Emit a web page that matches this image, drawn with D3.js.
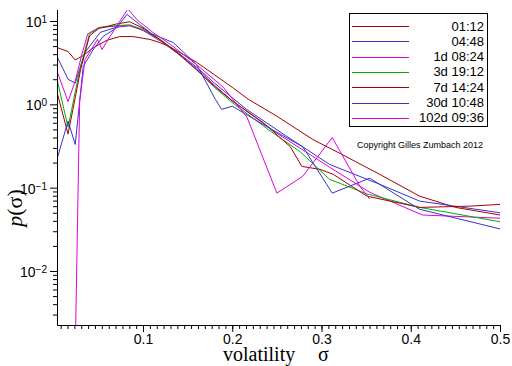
<!DOCTYPE html>
<html>
<head>
<meta charset="utf-8">
<script src="https://cdn.jsdelivr.net/npm/d3@7"></script>
<style>
  body { margin: 0; background: #fff; }
  svg { display: block; }
</style>
</head>
<body>
<div id="chart"></div>
<script>
// series labels and colours (legend order)
const labels = ["01:12", "04:48", "1d 08:24", "3d 19:12", "7d 14:24", "30d 10:48", "102d 09:36"];
const colors = ["#a80000", "#3434c8", "#e000e0", "#00b000", "#a80000", "#3434c8", "#e000e0"];

// sigma / p(sigma)
const s0112 = [0.0036, 0.016, 0.024, 0.032, 0.046, 0.06, 0.074, 0.089, 0.108, 0.119, 0.13, 0.16, 0.2, 0.218, 0.25, 0.29, 0.32, 0.365, 0.41, 0.45, 0.5];
const p0112 = [4.8, 4.3, 3.4, 3.8, 4.9, 5.9, 6.5, 6.5, 6.0, 5.5, 4.9, 3.2, 1.6, 1.15, 0.72, 0.38, 0.26, 0.145, 0.079, 0.058, 0.047];

const s0448 = [0.0036, 0.016, 0.024, 0.035, 0.052, 0.07, 0.085, 0.1, 0.12, 0.14, 0.16, 0.18, 0.2, 0.216, 0.26, 0.309, 0.365, 0.41, 0.5];
const p0448 = [3.75, 2.0, 1.8, 4.2, 7.3, 8.4, 8.8, 7.8, 5.9, 4.1, 2.8, 1.8, 1.2, 0.87, 0.42, 0.19, 0.11, 0.069, 0.05];

const s1d = [0.0036, 0.016, 0.024, 0.031, 0.038, 0.05, 0.07, 0.085, 0.1, 0.12, 0.14, 0.16, 0.18, 0.2, 0.25, 0.309, 0.354, 0.413, 0.5];
const p1d = [2.5, 1.08, 1.9, 3.8, 7.0, 8.3, 8.7, 8.8, 7.7, 5.7, 4.0, 2.7, 1.7, 1.1, 0.45, 0.176, 0.088, 0.047, 0.043];

const s3d = [0.0036, 0.016, 0.024, 0.03, 0.04, 0.052, 0.07, 0.085, 0.1, 0.12, 0.14, 0.16, 0.18, 0.2, 0.24, 0.276, 0.309, 0.351, 0.41, 0.5];
const p3d = [2.0, 0.53, 1.4, 2.85, 7.0, 8.4, 8.8, 9.0, 7.9, 5.8, 4.0, 2.6, 1.6, 1.05, 0.5, 0.27, 0.126, 0.084, 0.058, 0.039];

const s7d = [0.0036, 0.016, 0.024, 0.03, 0.04, 0.05, 0.07, 0.085, 0.1, 0.12, 0.14, 0.16, 0.18, 0.2, 0.235, 0.265, 0.278, 0.298, 0.313, 0.351, 0.41, 0.466, 0.5];
const p7d = [1.4, 0.44, 1.2, 2.6, 6.6, 8.1, 9.2, 9.8, 8.2, 5.9, 4.0, 2.6, 1.65, 1.1, 0.6, 0.31, 0.18, 0.166, 0.145, 0.079, 0.058, 0.06, 0.063];

const s30d = [0.0036, 0.016, 0.024, 0.033, 0.044, 0.055, 0.07, 0.082, 0.096, 0.11, 0.134, 0.16, 0.181, 0.188, 0.2, 0.24, 0.279, 0.312, 0.354, 0.41, 0.5];
const p30d = [0.22, 0.63, 0.33, 2.85, 4.5, 6.5, 8.2, 12, 9.1, 7.0, 5.5, 3.0, 1.15, 0.87, 0.95, 0.53, 0.31, 0.086, 0.13, 0.055, 0.032];

const s102d = [0.0235, 0.029, 0.035, 0.049, 0.054, 0.063, 0.083, 0.093, 0.111, 0.13, 0.16, 0.19, 0.2165, 0.25, 0.279, 0.312, 0.343, 0.354];
const p102d = [0.0005, 1.1, 3.45, 6.0, 4.55, 6.5, 14, 10.4, 7.3, 5.3, 3.0, 1.6, 0.70, 0.086, 0.137, 0.40, 0.104, 0.073];

const xTicks = [0.1, 0.2, 0.3, 0.4, 0.5];
const yTicks = [-2, -1, 0, 1]; // exponents of 10

const sigmas = [s0112, s0448, s1d, s3d, s7d, s30d, s102d];
const probs = [p0112, p0448, p1d, p3d, p7d, p30d, p102d];

const width = 512, height = 366;
const plotLeft = 57, plotRight = 500, plotTop = 10, plotBottom = 325;

const svg = d3.select("#chart").append("svg")
  .attr("width", width)
  .attr("height", height);

const x = d3.scaleLinear().domain([0.0036, 0.5]).range([plotLeft, plotRight]);
const y = d3.scaleLog().domain([Math.pow(10, -2.648), Math.pow(10, 1.132)]).range([plotBottom, plotTop]);

svg.append("clipPath").attr("id", "plotclip")
  .append("rect")
  .attr("x", plotLeft).attr("y", plotTop)
  .attr("width", plotRight - plotLeft).attr("height", plotBottom - plotTop);

// curves
const line = d3.line().x((d) => x(d[0])).y((d) => y(d[1]));
const plot = svg.append("g").attr("clip-path", "url(#plotclip)");
sigmas.forEach((s, i) => {
  const pts = s.map((v, j) => [v, probs[i][j]]);
  plot.append("path")
    .attr("d", line(pts))
    .attr("fill", "none")
    .attr("stroke", colors[i])
    .attr("stroke-width", 1);
});

// x axis: major + minor ticks
const xMinor = d3.range(0, 0.5001, 0.1 / 13).filter((v) => v >= 0.0036);
svg.append("g")
  .attr("transform", "translate(0," + plotBottom + ")")
  .call(d3.axisBottom(x).tickValues(xMinor).tickSize(4).tickFormat(""))
  .call((g) => g.select(".domain").remove());
svg.append("g")
  .attr("transform", "translate(0," + plotBottom + ")")
  .call(d3.axisBottom(x).tickValues(xTicks).tickSize(7).tickSizeOuter(0).tickPadding(2).tickFormat(d3.format(".1f")))
  .call((g) => g.select(".domain").attr("d", "M" + (plotLeft + 0.5) + ",0.5H" + plotRight))
  .call((g) => g.selectAll("text")
    .attr("font-family", "Liberation Sans, Arial, sans-serif")
    .attr("font-size", 14)
    .attr("fill", "#000"));

// y axis: log ticks
const yMinor = [];
for (let e = -3; e <= 1; e++) {
  for (let k = 2; k <= 9; k++) {
    const v = k * Math.pow(10, e);
    if (v >= y.domain()[0] && v <= y.domain()[1]) yMinor.push(v);
  }
}
svg.append("g")
  .attr("transform", "translate(" + plotLeft + ",0)")
  .call(d3.axisLeft(y).tickValues(yMinor).tickSize(4).tickFormat(""))
  .call((g) => g.select(".domain").remove());
svg.append("g")
  .attr("transform", "translate(" + plotLeft + ",0)")
  .call(d3.axisLeft(y).tickValues(yTicks.map((e) => Math.pow(10, e))).tickSize(7).tickSizeOuter(0).tickFormat(""))
  .call((g) => g.select(".domain").attr("d", "M0.5," + plotTop + "V" + (plotBottom + 0.5)));
svg.selectAll(".tick line").attr("stroke", "#000");
svg.selectAll(".domain").attr("stroke", "#000");

yTicks.forEach((e) => {
  const t = svg.append("text")
    .attr("x", 47)
    .attr("y", y(Math.pow(10, e)) + 6)
    .attr("text-anchor", "end")
    .attr("font-family", "Liberation Sans, Arial, sans-serif")
    .attr("font-size", 14);
  t.append("tspan").text("10");
  t.append("tspan").attr("dy", -4).attr("font-size", 10).text(e < 0 ? "\u2212" + (-e) : String(e));
});

// axis titles
svg.append("text")
  .attr("x", 223).attr("y", 361)
  .attr("font-family", "Liberation Serif, Times New Roman, serif")
  .attr("font-size", 20)
  .text("volatility");
svg.append("text")
  .attr("x", 318).attr("y", 361)
  .attr("font-family", "Liberation Serif, Times New Roman, serif")
  .attr("font-size", 20)
  .text("\u03c3");

const yl = svg.append("text")
  .attr("transform", "translate(22,208) rotate(-90)")
  .attr("text-anchor", "middle")
  .attr("font-family", "Liberation Serif, Times New Roman, serif")
  .attr("font-size", 22);
yl.append("tspan").attr("font-style", "italic").text("p");
yl.append("tspan").text("(\u03c3)");

// legend
const lg = svg.append("g");
lg.append("rect")
  .attr("x", 349.5).attr("y", 13.5)
  .attr("width", 138).attr("height", 113)
  .attr("fill", "#fff")
  .attr("stroke", "#000");
labels.forEach((lab, i) => {
  const ly = 26 + i * 15.33;
  lg.append("line")
    .attr("x1", 352).attr("x2", 409)
    .attr("y1", Math.round(ly) + 0.5).attr("y2", Math.round(ly) + 0.5)
    .attr("stroke", colors[i]);
  lg.append("text")
    .attr("x", 484).attr("y", ly + 4.5)
    .attr("text-anchor", "end")
    .attr("font-family", "Liberation Sans, Arial, sans-serif")
    .attr("font-size", 13)
    .text(lab);
});

svg.append("text")
  .attr("x", 420).attr("y", 148)
  .attr("text-anchor", "middle")
  .attr("font-family", "Liberation Sans, Arial, sans-serif")
  .attr("font-size", 9)
  .text("Copyright Gilles Zumbach 2012");
</script>
</body>
</html>
